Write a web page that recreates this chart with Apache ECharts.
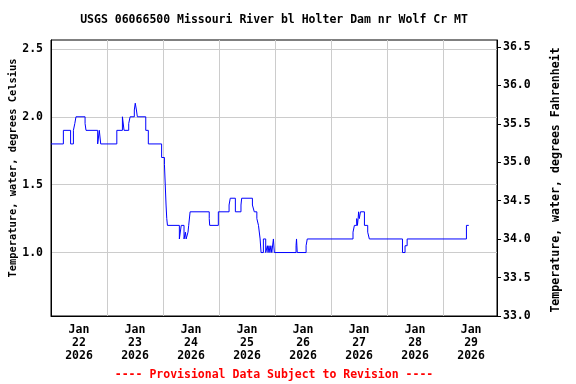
<!DOCTYPE html>
<html>
<head>
<meta charset="utf-8">
<script src="https://cdn.jsdelivr.net/npm/echarts@6/dist/echarts.min.js"></script>
<style>
html,body{margin:0;padding:0;background:#fff;}
#chart{width:576px;height:384px;}
</style>
</head>
<body>
<div id="chart"></div>
<script>
// Hours since 2026-01-22 00:00 (local) at which the reading changes
const hours = [
  0, 5.3, 8.4, 9.6, 10.2, 10.7, 14.6, 15.0, 20.0, 20.7, 21.3, 28.2, 30.6, 31.3, 33.3, 33.9,
  35.7, 36.1, 36.6, 37.0, 40.6, 41.7, 47.4, 48.6, 49.3, 49.6, 49.9, 55.0, 55.8, 57.0, 57.6,
  57.9, 58.7, 59.0, 59.6, 67.8, 68.0, 71.7, 76.3, 76.8, 79.0, 81.4, 81.7, 86.3, 87.1, 88.2,
  88.9, 89.6, 90.0, 91.0, 92.0, 92.7, 93.0, 93.4, 93.8, 94.2, 94.6, 95.3, 95.7, 105.0, 105.2,
  105.5, 109.3, 109.8, 129.4, 130.0, 131.0, 131.3, 131.6, 131.8, 132.1, 132.6, 134.3, 135.7,
  136.4, 150.6, 151.7, 152.6, 178.0, 179.0
];
// Water temperature, degrees Celsius
const tempC = [
  1.8, 1.9, 1.8, 1.9, 1.95, 2.0, 1.95, 1.9, 1.8, 1.9, 1.8, 1.9, 2.0, 1.9, 1.95, 2.0,
  2.05, 2.1, 2.05, 2.0, 1.9, 1.8, 1.7, 1.65, 1.35, 1.25, 1.2, 1.1, 1.2, 1.1, 1.15,
  1.1, 1.15, 1.2, 1.3, 1.25, 1.2, 1.3, 1.35, 1.4, 1.3, 1.35, 1.4, 1.35, 1.3, 1.25,
  1.2, 1.1, 1.0, 1.1, 1.0, 1.05, 1.0, 1.05, 1.0, 1.05, 1.0, 1.1, 1.0, 1.05, 1.1,
  1.0, 1.05, 1.1, 1.15, 1.2, 1.25, 1.2, 1.25, 1.3, 1.25, 1.3, 1.2, 1.15,
  1.1, 1.0, 1.05, 1.1, 1.2, 1.2
];
const monthLabel = 'Jan';
const yearLabel = '2026';
const dayLabels = ['22', '23', '24', '25', '26', '27', '28', '29'];
const celsiusTicks = [1.0, 1.5, 2.0, 2.5];
const fahrenheitTicks = [33.0, 33.5, 34.0, 34.5, 35.0, 35.5, 36.0, 36.5];
const titleText = 'USGS 06066500 Missouri River bl Holter Dam nr Wolf Cr MT';
const footerText = '---- Provisional Data Subject to Revision ----';
const leftName = 'Temperature, water, degrees Celsius';
const rightName = 'Temperature, water, degrees Fahrenheit';

const FONT = 'DejaVu Sans Mono';
const noonTicks = dayLabels.map((d, i) => 12 + 24 * i);

const chart = echarts.init(document.getElementById('chart'), null, {renderer: 'canvas'});
chart.setOption({
  animation: false,
  backgroundColor: '#ffffff',
  textStyle: {fontFamily: FONT},
  graphic: [
    {type: 'text', x: 274, y: 20, style: {text: titleText, fill: '#000', font: 'bold 11.5px "DejaVu Sans Mono"', textAlign: 'center', textVerticalAlign: 'middle'}},
    {type: 'text', x: 274, y: 375, style: {text: footerText, fill: '#ff0000', font: 'bold 11.5px "DejaVu Sans Mono"', textAlign: 'center', textVerticalAlign: 'middle'}},
    {type: 'text', x: 13, y: 168, rotation: Math.PI / 2, style: {text: leftName, fill: '#000', font: 'bold 10.4px "DejaVu Sans Mono"', textAlign: 'center', textVerticalAlign: 'middle'}},
    {type: 'text', x: 556, y: 180, rotation: Math.PI / 2, style: {text: rightName, fill: '#000', font: 'bold 11.6px "DejaVu Sans Mono"', textAlign: 'center', textVerticalAlign: 'middle'}}
  ],
  grid: {left: 51, right: 79, top: 40, bottom: 68, show: true, borderColor: '#000', borderWidth: 1, containLabel: false, outerBoundsMode: 'none'},
  xAxis: {
    type: 'value', min: 0, max: 191.1, interval: 24,
    axisLine: {show: true, lineStyle: {color: '#000', width: 1}},
    axisTick: {show: false},
    splitLine: {show: true, lineStyle: {color: '#cccccc', width: 1}},
    axisLabel: {
      customValues: noonTicks,
      margin: 8,
      color: '#000', fontFamily: FONT, fontWeight: 'bold', fontSize: 11.5, lineHeight: 13,
      formatter: v => {
        const i = Math.round((v - 12) / 24);
        return monthLabel + '\n' + dayLabels[i] + '\n' + yearLabel;
      }
    }
  },
  yAxis: [
    {
      type: 'value', position: 'left', min: 0.5325, max: 2.5656,
      axisLine: {show: true, lineStyle: {color: '#000', width: 1}},
      axisTick: {show: false, customValues: celsiusTicks},
      splitLine: {show: true, lineStyle: {color: '#cccccc', width: 1}},
      axisLabel: {customValues: celsiusTicks, margin: 8, color: '#000', fontFamily: FONT, fontWeight: 'bold', fontSize: 11.5,
        formatter: v => v.toFixed(1)}
    },
    {
      type: 'value', position: 'right', min: 33, max: 36.59,
      axisLine: {show: true, lineStyle: {color: '#000', width: 1}},
      axisTick: {show: true, inside: false, length: 4, customValues: fahrenheitTicks, lineStyle: {color: '#000'}},
      splitLine: {show: false},
      axisLabel: {customValues: fahrenheitTicks, margin: 6, color: '#000', fontFamily: FONT, fontWeight: 'bold', fontSize: 11.5,
        formatter: v => v.toFixed(1)}
    }
  ],
  series: [{
    type: 'line', yAxisIndex: 0, step: 'end', showSymbol: false, symbol: 'none',
    lineStyle: {color: '#0000ff', width: 1},
    data: hours.map((h, i) => [h, tempC[i]])
  }]
});
</script>
</body>
</html>
